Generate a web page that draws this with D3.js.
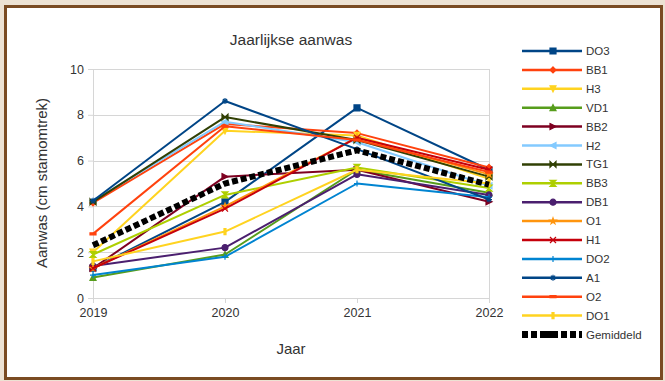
<!DOCTYPE html>
<html>
<head>
<meta charset="utf-8">
<script src="https://cdn.jsdelivr.net/npm/d3@7"></script>
<style>
  body { margin: 0; background: #ede2d3; }
  svg { display: block; font-family: "Liberation Sans", Arial, sans-serif; }
</style>
</head>
<body>
<script>
const years = [2019, 2020, 2021, 2022];
const yTicks = [0, 2, 4, 6, 8, 10];

const seriesNames = ['DO3', 'BB1', 'H3', 'VD1', 'BB2', 'H2', 'TG1', 'BB3', 'DB1', 'O1', 'H1', 'DO2', 'A1', 'O2', 'DO1'];
const seriesColors = ['#004586', '#ff420e', '#ffd320', '#579d1c', '#7e0021', '#83caff', '#314004', '#aecf00',
  '#4b1f6f', '#ff950e', '#c5000b', '#0084d1', '#004586', '#ff420e', '#ffd320'];
const seriesSymbols = ['square', 'diamond', 'down', 'up', 'right', 'left', 'bowtie', 'hourglass',
  'circle', 'star', 'x', 'plus', 'asterisk', 'hbar', 'vbar'];

const DO3 = [1.3, 4.2, 8.3, 5.6];
const BB1 = [4.15, 7.6, 7.2, 5.7];
const H3 = [2.0, 7.3, 7.1, 5.2];
const VD1 = [0.9, 1.9, 5.6, 4.6];
const BB2 = [1.3, 5.3, 5.6, 4.2];
const H2 = [4.25, 7.7, 6.8, 4.9];
const TG1 = [4.2, 7.9, 6.9, 5.3];
const BB3 = [1.9, 4.5, 5.7, 4.8];
const DB1 = [1.4, 2.2, 5.4, 4.5];
const O1 = [1.3, 4.0, 7.0, 5.4];
const H1 = [1.3, 3.9, 7.0, 5.6];
const DO2 = [1.0, 1.8, 5.0, 4.4];
const A1 = [4.25, 8.6, 6.5, 4.3];
const O2 = [2.8, 7.5, 6.9, 5.5];
const DO1 = [1.6, 2.9, 5.6, 5.0];
const gemiddeld = [2.3, 5.0, 6.45, 4.95];

const seriesValues = [DO3, BB1, H3, VD1, BB2, H2, TG1, BB3, DB1, O1, H1, DO2, A1, O2, DO1];

const W = 665, H = 381;
const margin = { left: 93, right: 176, top: 69, bottom: 83 };

const svg = d3.select('body').append('svg').attr('width', W).attr('height', H);

// frame
svg.append('rect').attr('x', 5.5).attr('y', 6.5).attr('width', W - 9).attr('height', H - 9)
  .attr('fill', '#fff').attr('stroke', '#7a4b22').attr('stroke-width', 3);

const x = d3.scalePoint().domain(years).range([margin.left, W - margin.right]);
const y = d3.scaleLinear().domain([0, 10]).range([H - margin.bottom, margin.top]);

// grid
svg.append('g').selectAll('line').data(yTicks).join('line')
  .attr('x1', margin.left).attr('x2', W - margin.right)
  .attr('y1', d => Math.round(y(d)) + 0.5).attr('y2', d => Math.round(y(d)) + 0.5)
  .attr('stroke', '#d6d6d6');
svg.append('g').selectAll('line').data([years[0], years[years.length - 1]]).join('line')
  .attr('x1', d => Math.round(x(d)) + 0.5).attr('x2', d => Math.round(x(d)) + 0.5)
  .attr('y1', y(0)).attr('y2', y(10))
  .attr('stroke', '#d6d6d6');

const yAxis = svg.append('g').attr('transform', `translate(${margin.left},0)`)
  .call(d3.axisLeft(y).tickValues(yTicks).tickSize(5).tickPadding(4));
const xAxis = svg.append('g').attr('transform', `translate(0,${y(0)})`)
  .call(d3.axisBottom(x).tickSize(5).tickPadding(5).tickFormat(d3.format('d')));
[yAxis, xAxis].forEach(a => {
  a.select('.domain').remove();
  a.selectAll('.tick line').attr('stroke', '#d6d6d6');
  a.selectAll('.tick text').attr('fill', '#333').attr('font-size', 12.5)
    .attr('font-family', '"Liberation Sans", Arial, sans-serif');
});

// titles
svg.append('text').attr('x', 291).attr('y', 45).attr('text-anchor', 'middle')
  .attr('font-size', 15.5).attr('fill', '#333').text('Jaarlijkse aanwas');
svg.append('text').attr('x', 291).attr('y', 354).attr('text-anchor', 'middle')
  .attr('font-size', 15).attr('fill', '#333').text('Jaar');
svg.append('text').attr('transform', 'translate(47,183) rotate(-90)').attr('text-anchor', 'middle')
  .attr('font-size', 15).attr('fill', '#333').text('Aanwas (cm stamomtrek)');

function symbolPath(type, s) {
  switch (type) {
    case 'square': return `M${-s},${-s}H${s}V${s}H${-s}Z`;
    case 'diamond': return `M0,${-s}L${s},0L0,${s}L${-s},0Z`;
    case 'down': return `M${-s},${-s}H${s}L0,${s}Z`;
    case 'up': return `M${-s},${s}H${s}L0,${-s}Z`;
    case 'right': return `M${-s},${-s}L${s},0L${-s},${s}Z`;
    case 'left': return `M${s},${-s}L${-s},0L${s},${s}Z`;
    case 'bowtie': return `M${-s},${-s}L${s},${s}V${-s}L${-s},${s}Z`;
    case 'hourglass': return `M${-s},${-s}H${s}L${-s},${s}H${s}Z`;
    case 'circle': return d3.symbol(d3.symbolCircle, Math.PI * s * s)();
    case 'star': return d3.symbol(d3.symbolStar, s * s * 1.3)();
    case 'x': return `M${-s},${-s}L${s},${s}M${s},${-s}L${-s},${s}`;
    case 'plus': return `M${-s},0H${s}M0,${-s}V${s}`;
    case 'asterisk': return `M${-s},0H${s}M0,${-s}V${s}M${-s * .7},${-s * .7}L${s * .7},${s * .7}M${s * .7},${-s * .7}L${-s * .7},${s * .7}`;
    case 'hbar': return `M${-s},-1H${s}V1H${-s}Z`;
    case 'vbar': return `M-1,${-s}H1V${s}H-1Z`;
  }
}

const line = d3.line().x((d, i) => x(years[i])).y(d => y(d));
const plot = svg.append('g');

seriesValues.forEach((vals, si) => {
  const g = plot.append('g');
  g.append('path').attr('d', line(vals)).attr('fill', 'none')
    .attr('stroke', seriesColors[si]).attr('stroke-width', 2).attr('stroke-linejoin', 'round');
  g.selectAll('path.m').data(vals).join('path').attr('class', 'm')
    .attr('transform', (d, i) => `translate(${x(years[i])},${y(d)})`)
    .attr('d', symbolPath(seriesSymbols[si], 3))
    .attr('fill', seriesColors[si]).attr('stroke', seriesColors[si]).attr('stroke-width', 1.2);
});

plot.append('path').attr('d', line(gemiddeld)).attr('fill', 'none')
  .attr('stroke', '#000').attr('stroke-width', 6).attr('stroke-dasharray', '6,3');

// legend
const legendNames = seriesNames.concat(['Gemiddeld']);
const legend = svg.append('g').attr('transform', 'translate(522,51)');
const row = legend.selectAll('g').data(legendNames).join('g')
  .attr('transform', (d, i) => `translate(0,${i * 18.9})`);
row.each(function (d, i) {
  const g = d3.select(this);
  if (i < seriesNames.length) {
    g.append('line').attr('x1', 0).attr('x2', 60).attr('stroke', seriesColors[i]).attr('stroke-width', 2.5);
    g.append('path').attr('transform', 'translate(31,0)').attr('d', symbolPath(seriesSymbols[i], 3))
      .attr('fill', seriesColors[i]).attr('stroke', seriesColors[i]).attr('stroke-width', 1.2);
  } else {
    g.append('line').attr('x1', 0).attr('x2', 60).attr('stroke', '#000').attr('stroke-width', 7)
      .attr('stroke-dasharray', '6,3,6,3,18,3,6,3,6,3');
  }
  g.append('text').attr('x', 64).attr('y', 4).attr('font-size', 11.5).attr('fill', '#333').text(d);
});
</script>
</body>
</html>
